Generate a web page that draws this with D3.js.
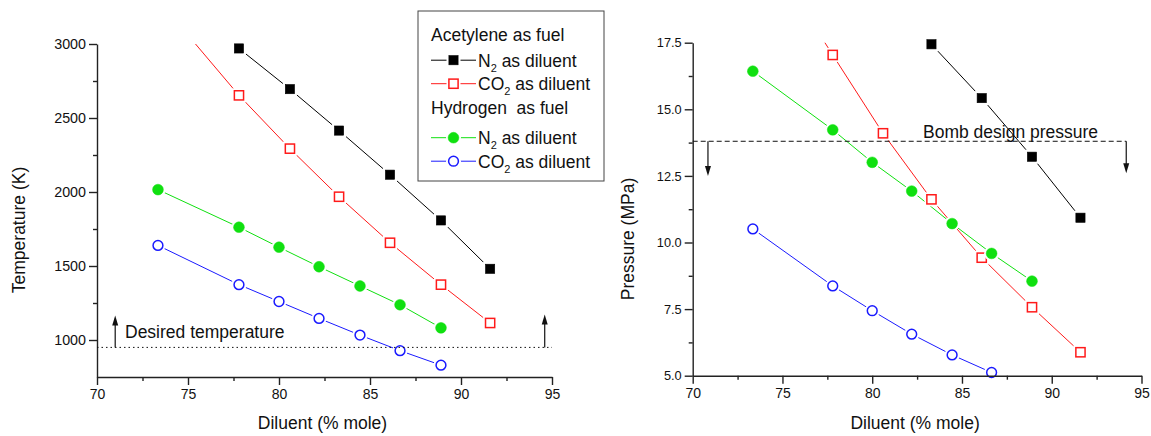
<!DOCTYPE html>
<html>
<head>
<meta charset="utf-8">
<script src="https://cdn.jsdelivr.net/npm/d3@7"></script>
<style>
  body { margin: 0; background: #fff; }
  svg { font-family: "Liberation Sans", Arial, sans-serif; }
  text { fill: #111; }
</style>
</head>
<body>
<svg width="1151" height="436"></svg>
<script>
// diluent fractions (% mole)
const xAcet = [75.0, 77.8, 80.6, 83.3, 86.1, 88.9, 91.6];
const xHyd = [73.35, 77.8, 80.0, 82.2, 84.45, 86.65, 88.9];

// flame temperature (K)
const tempAcetN2 = [null, 2970, 2695, 2415, 2117, 1808, 1481];
const tempAcetCO2 = [3060, 2653, 2293, 1968, 1657, 1374, 1115];
const tempHydN2 = [2016, 1762, 1627, 1495, 1365, 1238, 1082];
const tempHydCO2 = [1639, 1374, 1260, 1146, 1033, 928, 830];

// peak pressure (MPa)
const presAcetN2 = [null, null, null, 17.44, 15.42, 13.22, 10.93];
const presAcetCO2 = [20.0, 17.04, 14.1, 11.62, 9.43, 7.57, 5.88];
const presHydN2 = [16.43, 14.23, 13.01, 11.93, 10.71, 9.59, 8.55];
const presHydCO2 = [10.51, 8.37, 7.44, 6.56, 5.78, 5.12, null];

const xTicks = [70, 75, 80, 85, 90, 95];
const tempTicks = [1000, 1500, 2000, 2500, 3000];
const presTicks = [5, 7.5, 10, 12.5, 15, 17.5];

const desiredTemp = 950;
const designPres = 13.8;

const svg = d3.select("svg");

function series(xs, ys) {
  return xs.map((x, i) => ({ x: x, y: ys[i] })).filter(d => d.y != null);
}

// draw one panel
function panel(opt) {
  const x = d3.scaleLinear().domain([70, 95]).range(opt.xr);
  const y = d3.scaleLinear().domain(opt.yd).range(opt.yr);
  const g = svg.append("g");

  // clip lines to the plot area
  g.append("clipPath").attr("id", opt.id)
    .append("rect")
    .attr("x", opt.xr[0]).attr("y", opt.yr[1])
    .attr("width", opt.xr[1] - opt.xr[0]).attr("height", opt.yr[0] - opt.yr[1]);

  const plot = g.append("g").attr("clip-path", `url(#${opt.id})`);
  const marks = g.append("g");
  const line = d3.line().x(d => x(d.x)).y(d => y(d.y));

  opt.data.forEach(s => {
    const pts = series(s.xs, s.ys);
    plot.append("path")
      .attr("d", line(pts))
      .attr("fill", "none")
      .attr("stroke", s.color)
      .attr("stroke-width", 1);
    pts.filter(p => p.y >= opt.yd[0] && p.y <= opt.yd[1])
      .forEach(p => marker(marks, x(p.x), y(p.y), s));
  });

  // minor ticks
  const xMinor = xTicks.slice(0, -1).map(d => d + 2.5);
  g.append("g").attr("transform", `translate(0,${opt.yr[0]})`)
    .call(d3.axisBottom(x).tickValues(xMinor).tickSize(4).tickFormat(""))
    .call(a => a.select(".domain").remove());
  const yMinor = opt.ticks.slice(0, -1).map((d, i) => (d + opt.ticks[i + 1]) / 2);
  g.append("g").attr("transform", `translate(${opt.xr[0]},0)`)
    .call(d3.axisLeft(y).tickValues(yMinor).tickSize(4).tickFormat(""))
    .call(a => a.select(".domain").remove());

  const xa = g.append("g").attr("transform", `translate(0,${opt.yr[0]})`)
    .call(d3.axisBottom(x).tickValues(xTicks).tickSize(8).tickSizeOuter(0).tickPadding(4));
  xa.selectAll("text").attr("font-size", 14);
  const ya = g.append("g").attr("transform", `translate(${opt.xr[0]},0)`)
    .call(d3.axisLeft(y).tickValues(opt.ticks).tickSize(8).tickSizeOuter(0).tickPadding(3).tickFormat(opt.fmt));
  ya.selectAll("text").attr("font-size", opt.yFont);
  g.selectAll(".domain, .tick line").attr("stroke", "#222").attr("stroke-width", 1.4);

  // axis titles
  g.append("text")
    .attr("x", (opt.xr[0] + opt.xr[1]) / 2 - 2)
    .attr("y", 429)
    .attr("text-anchor", "middle")
    .attr("font-size", 17.5)
    .text("Diluent (% mole)");
  g.append("text")
    .attr("transform", `translate(${opt.yTitleX},${opt.yTitleY}) rotate(-90)`)
    .attr("text-anchor", "middle")
    .attr("font-size", 17.5)
    .text(opt.yTitle);

  return { g: g, x: x, y: y };
}

function marker(sel, cx, cy, s) {
  if (s.shape == "square") {
    sel.append("rect")
      .attr("x", cx - 7).attr("y", cy - 7).attr("width", 14).attr("height", 14)
      .attr("fill", "#fff");
    sel.append("rect")
      .attr("x", cx - 4.6).attr("y", cy - 4.6).attr("width", 9.2).attr("height", 9.2)
      .attr("fill", s.filled ? s.color : "#fff")
      .attr("stroke", s.color).attr("stroke-width", s.filled ? 0.6 : 1.5);
  } else {
    sel.append("circle")
      .attr("cx", cx).attr("cy", cy).attr("r", 7.5)
      .attr("fill", "#fff");
    sel.append("circle")
      .attr("cx", cx).attr("cy", cy).attr("r", s.filled ? 5.4 : 4.9)
      .attr("fill", s.filled ? s.color : "#fff")
      .attr("stroke", s.color).attr("stroke-width", s.filled ? 0.5 : 1.5);
  }
}

function arrow(g, x0, y0, y1) {
  const dir = y1 < y0 ? 1 : -1;
  g.append("line")
    .attr("x1", x0).attr("x2", x0).attr("y1", y0).attr("y2", y1 + dir * 6)
    .attr("stroke", "#111").attr("stroke-width", 1.2);
  g.append("path")
    .attr("d", `M${x0 - 3},${y1 + dir * 10}L${x0},${y1}L${x0 + 3},${y1 + dir * 10}Z`)
    .attr("fill", "#111");
}

const black = "#000000", red = "#ff1a1a", green = "#10e010", blue = "#1a1aff";

// left panel: temperature
const left = panel({
  id: "clipT",
  xr: [97, 552], yd: [750, 3000], yr: [377, 44],
  ticks: tempTicks, fmt: d3.format("d"), yFont: 14.3,
  yTitle: "Temperature (K)", yTitleX: 25, yTitleY: 230,
  data: [
    { xs: xAcet, ys: tempAcetN2, color: black, shape: "square", filled: true },
    { xs: xAcet, ys: tempAcetCO2, color: red, shape: "square", filled: false },
    { xs: xHyd, ys: tempHydN2, color: green, shape: "circle", filled: true },
    { xs: xHyd, ys: tempHydCO2, color: blue, shape: "circle", filled: false }
  ]
});

left.g.append("line")
  .attr("x1", left.x(70)).attr("x2", left.x(95))
  .attr("y1", left.y(desiredTemp)).attr("y2", left.y(desiredTemp))
  .attr("stroke", "#111").attr("stroke-width", 1).attr("stroke-dasharray", "1.5,3");
arrow(left.g, left.x(71), left.y(desiredTemp), left.y(1166));
arrow(left.g, left.x(94.6), left.y(desiredTemp), left.y(1172));
left.g.append("text")
  .attr("x", 125).attr("y", 338)
  .attr("font-size", 17.5)
  .text("Desired temperature");

// right panel: pressure
const right = panel({
  id: "clipP",
  xr: [692.7, 1141.5], yd: [5, 17.5], yr: [375.7, 42.7],
  ticks: presTicks, fmt: d3.format(".1f"), yFont: 12.8,
  yTitle: "Pressure (MPa)", yTitleX: 634, yTitleY: 239,
  data: [
    { xs: xAcet, ys: presAcetN2, color: black, shape: "square", filled: true },
    { xs: xAcet, ys: presAcetCO2, color: red, shape: "square", filled: false },
    { xs: xHyd, ys: presHydN2, color: green, shape: "circle", filled: true },
    { xs: xHyd, ys: presHydCO2, color: blue, shape: "circle", filled: false }
  ]
});

right.g.append("line")
  .attr("x1", right.x(70)).attr("x2", right.x(94.15))
  .attr("y1", right.y(designPres)).attr("y2", right.y(designPres))
  .attr("stroke", "#111").attr("stroke-width", 1).attr("stroke-dasharray", "5,3");
arrow(right.g, right.x(70.85), right.y(designPres), right.y(12.5));
arrow(right.g, right.x(94.15), right.y(designPres), right.y(12.6));
right.g.append("text")
  .attr("x", 923).attr("y", 138)
  .attr("font-size", 17.5)
  .text("Bomb design pressure");

// legend
const legend = svg.append("g");
legend.append("rect")
  .attr("x", 418).attr("y", 11).attr("width", 186).attr("height", 170)
  .attr("fill", "#fff").attr("stroke", "#444").attr("stroke-width", 1);

const legendRows = [
  { type: "head", label: "Acetylene as fuel", base: 40.5 },
  { type: "item", gas: "N", s: { color: black, shape: "square", filled: true }, base: 66.5 },
  { type: "item", gas: "CO", s: { color: red, shape: "square", filled: false }, base: 90 },
  { type: "head", label: "Hydrogen  as fuel", base: 113.5 },
  { type: "item", gas: "N", s: { color: green, shape: "circle", filled: true }, base: 144 },
  { type: "item", gas: "CO", s: { color: blue, shape: "circle", filled: false }, base: 167.5 }
];

legendRows.forEach(r => {
  if (r.type == "head") {
    legend.append("text")
      .attr("x", 431).attr("y", r.base)
      .attr("font-size", 17.5)
      .style("white-space", "pre")
      .text(r.label);
    return;
  }
  const cy = r.base - 6.3;
  legend.append("line")
    .attr("x1", 431).attr("x2", 476).attr("y1", cy).attr("y2", cy)
    .attr("stroke", r.s.color).attr("stroke-width", 1);
  marker(legend, 453.5, cy, r.s);
  const t = legend.append("text")
    .attr("x", 478).attr("y", r.base)
    .attr("font-size", 17.5);
  t.append("tspan").text(r.gas);
  t.append("tspan").attr("font-size", 11).attr("dy", 5).text("2");
  t.append("tspan").attr("dy", -5).text(" as diluent");
});
</script>
</body>
</html>
